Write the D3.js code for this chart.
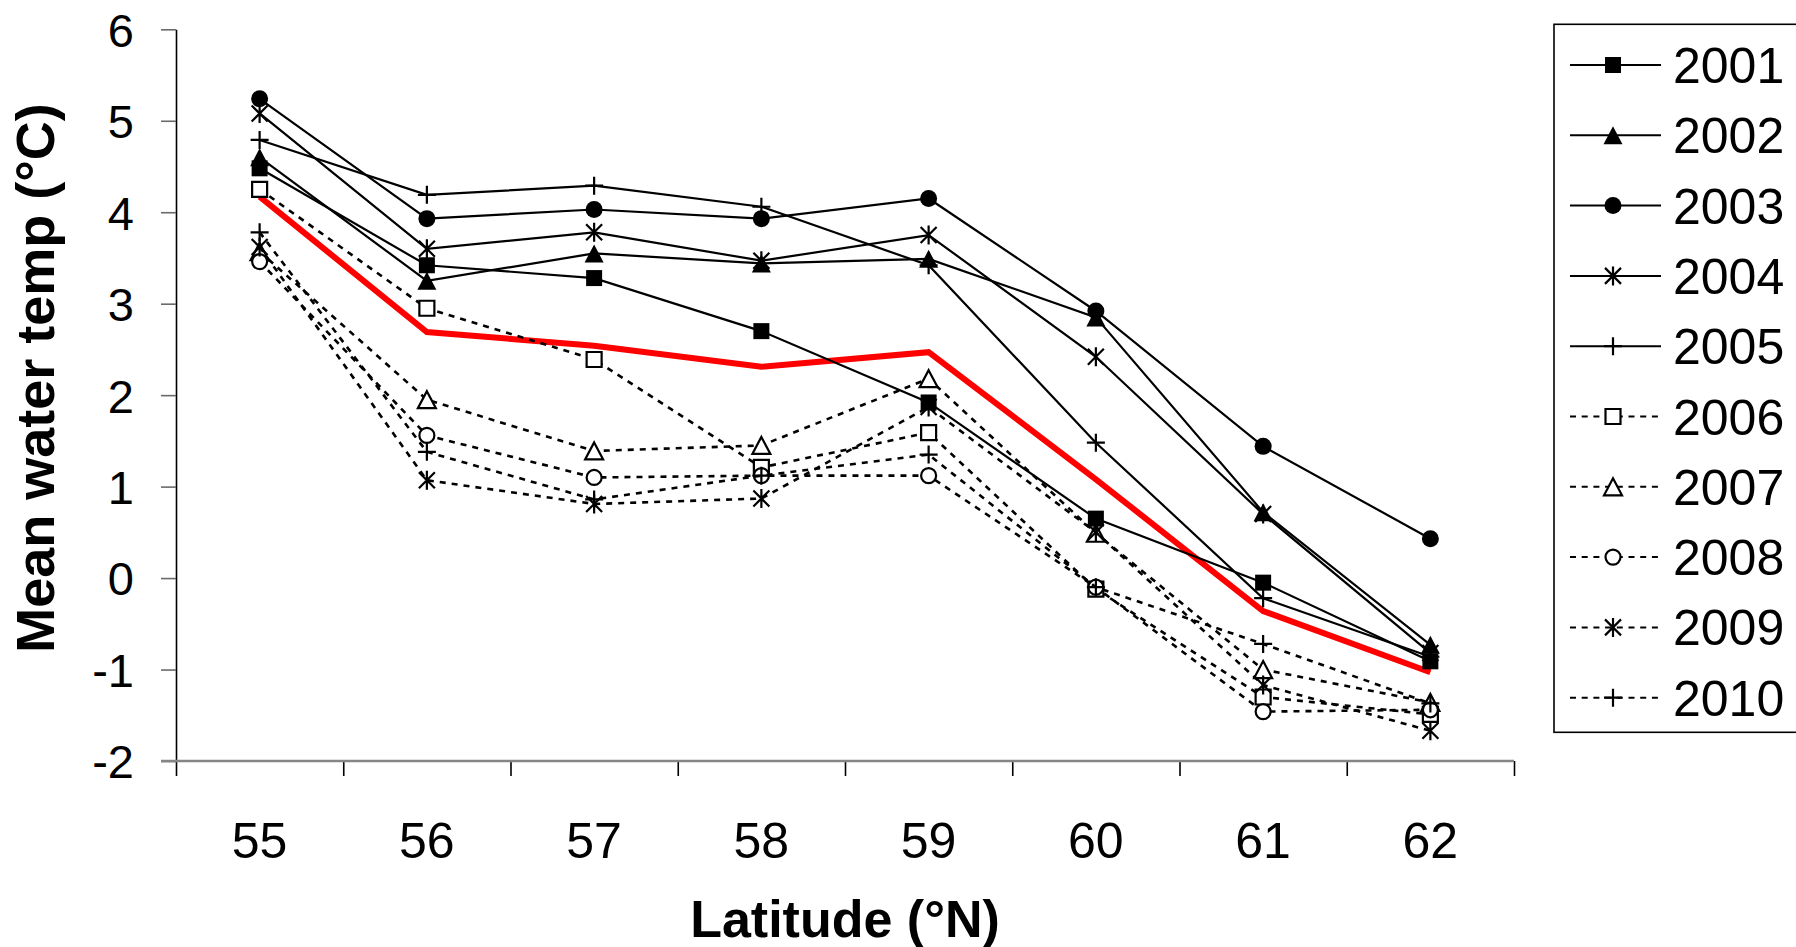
<!DOCTYPE html>
<html>
<head>
<meta charset="utf-8">
<script src="https://cdn.jsdelivr.net/npm/d3@7"></script>
<style>
  html, body { margin: 0; padding: 0; background: #fff; }
  svg { display: block; }
  text { font-family: "Liberation Sans", Arial, Helvetica, sans-serif; fill: #000; }
</style>
</head>
<body>
<svg id="chart" width="1796" height="947"></svg>
<script>
// Latitude bands along the x axis
const latitudes = [55, 56, 57, 58, 59, 60, 61, 62];
const yTicks = [-2, -1, 0, 1, 2, 3, 4, 5, 6];

// Mean water temperature (°C) per latitude, one array per year
const t2001 = [4.48, 3.42, 3.28, 2.70, 1.92, 0.65, -0.05, -0.91];
const t2002 = [4.60, 3.25, 3.55, 3.44, 3.49, 2.85, 0.72, -0.73];
const t2003 = [5.24, 3.93, 4.03, 3.93, 4.15, 2.92, 1.44, 0.43];
const t2004 = [5.08, 3.60, 3.78, 3.47, 3.75, 2.42, 0.70, -0.82];
const t2005 = [4.79, 4.19, 4.29, 4.06, 3.42, 1.48, -0.22, -0.86];
const t2006 = [4.25, 2.95, 2.39, 1.21, 1.59, -0.12, -1.30, -1.49];
const t2007 = [3.57, 1.95, 1.39, 1.45, 2.18, 0.49, -1.00, -1.36];
const t2008 = [3.46, 1.56, 1.10, 1.12, 1.12, -0.10, -1.46, -1.44];
const t2009 = [3.62, 1.07, 0.81, 0.87, 1.87, 0.50, -1.17, -1.67];
const t2010 = [3.78, 1.38, 0.86, 1.12, 1.35, -0.10, -0.72, -1.37];

// Long-term mean (red line)
const tMean = [4.17, 2.69, 2.54, 2.31, 2.47, 1.08, -0.36, -1.03];

const yearLabels = ["2001", "2002", "2003", "2004", "2005", "2006", "2007", "2008", "2009", "2010"];
const yearValues = [t2001, t2002, t2003, t2004, t2005, t2006, t2007, t2008, t2009, t2010];
const markerShapes = ["square", "triangle", "circle", "asterisk", "plus",
                      "square", "triangle", "circle", "asterisk", "plus"];
const markerFilled = [true, true, true, true, true, false, false, false, false, false];
const dashedLine = [false, false, false, false, false, true, true, true, true, true];

const svg = d3.select("#chart");

const plot = { left: 176, right: 1514, top: 29.3, bottom: 761 };

const x = d3.scaleBand().domain(latitudes).range([plot.left, plot.right]).padding(0);
const xEdges = d3.scaleLinear().domain([0, latitudes.length]).range([plot.left, plot.right]);
const y = d3.scaleLinear().domain([-2, 6]).range([plot.bottom, plot.top]);
const cx = d => x(d) + x.bandwidth() / 2;

// Marker path builder
function markerPath(shape, filled) {
  const p = d3.path();
  if (shape === "square") {
    const h = filled ? 8 : 7.5;
    p.rect(-h, -h, 2 * h, 2 * h);
  } else if (shape === "triangle") {
    const w = filled ? 9.5 : 9, hh = filled ? 9 : 8.5;
    p.moveTo(0, -hh); p.lineTo(w, hh); p.lineTo(-w, hh); p.closePath();
  } else if (shape === "circle") {
    const r = filled ? 8.5 : 7.5;
    p.moveTo(r, 0); p.arc(0, 0, r, 0, 2 * Math.PI);
  } else if (shape === "asterisk") {
    const a = 8, v = 9.5;
    p.moveTo(-a, -a); p.lineTo(a, a);
    p.moveTo(a, -a); p.lineTo(-a, a);
    p.moveTo(0, -v); p.lineTo(0, v);
  } else if (shape === "plus") {
    const a = 9;
    p.moveTo(-a, 0); p.lineTo(a, 0);
    p.moveTo(0, -a); p.lineTo(0, a);
  }
  return p.toString();
}

function styleMarker(sel, shape, filled) {
  if (shape === "asterisk" || shape === "plus") {
    sel.attr("fill", "none").attr("stroke", "#000").attr("stroke-width", 2.2);
  } else if (filled) {
    sel.attr("fill", "#000").attr("stroke", "none");
  } else {
    sel.attr("fill", "#fff").attr("stroke", "#000").attr("stroke-width", 2.2);
  }
}

// Axes
const yAxis = d3.axisLeft(y).tickValues(yTicks).tickSize(15).tickPadding(27)
  .tickSizeOuter(0).tickFormat(d => String(d));
const gy = svg.append("g").attr("transform", `translate(${plot.left},0)`).call(yAxis);
gy.select(".domain").attr("stroke", "#000").attr("stroke-width", 1.6);
gy.selectAll(".tick line").attr("stroke", "#6a6a6a").attr("stroke-width", 1.6);
gy.selectAll(".tick text").attr("font-size", 47).attr("dy", "0.36em");

const xTickAxis = d3.axisBottom(xEdges).tickValues(d3.range(latitudes.length + 1))
  .tickSize(15).tickFormat("").tickSizeOuter(0);
const gxt = svg.append("g").attr("transform", `translate(0,${plot.bottom})`).call(xTickAxis);
gxt.select(".domain").remove();
gxt.selectAll(".tick line").attr("stroke", "#000").attr("stroke-width", 1.6);

const xAxis = d3.axisBottom(x).tickSize(0).tickPadding(61).tickFormat(d => String(d));
const gx = svg.append("g").attr("transform", `translate(0,${plot.bottom})`).call(xAxis);
gx.select(".domain").attr("stroke", "#868686").attr("stroke-width", 2.4)
  .attr("d", `M${plot.left - 15},0H${plot.right}`);
gx.selectAll(".tick text").attr("font-size", 50).attr("dy", "0.71em");

// Axis titles
svg.append("text")
  .attr("transform", "translate(54,378) rotate(-90)")
  .attr("text-anchor", "middle")
  .attr("font-size", 54).attr("font-weight", "bold")
  .text("Mean water temp (°C)");

svg.append("text")
  .attr("x", (plot.left + plot.right) / 2).attr("y", 937)
  .attr("text-anchor", "middle")
  .attr("font-size", 52).attr("font-weight", "bold")
  .text("Latitude (°N)");

// Lines
const line = d3.line().x((d, i) => cx(latitudes[i])).y(d => y(d));

svg.append("path").datum(tMean)
  .attr("d", line).attr("fill", "none")
  .attr("stroke", "#ff0000").attr("stroke-width", 6).attr("stroke-linejoin", "miter");

yearValues.forEach((vals, k) => {
  const g = svg.append("g").attr("class", "series-" + yearLabels[k]);
  g.append("path").datum(vals)
    .attr("d", line).attr("fill", "none")
    .attr("stroke", "#000").attr("stroke-width", dashedLine[k] ? 2.6 : 2.2)
    .attr("stroke-dasharray", dashedLine[k] ? "6,6" : null);
  g.selectAll("path.mk").data(vals).enter().append("path")
    .attr("class", "mk")
    .attr("transform", (d, i) => `translate(${cx(latitudes[i])},${y(d)})`)
    .attr("d", markerPath(markerShapes[k], markerFilled[k]))
    .call(styleMarker, markerShapes[k], markerFilled[k]);
});

// Legend
const legend = { left: 1554, top: 24.3, bottom: 732.3, row0: 65, rowStep: 70.3 };
svg.append("rect")
  .attr("x", legend.left).attr("y", legend.top)
  .attr("width", 300).attr("height", legend.bottom - legend.top)
  .attr("fill", "#fff").attr("stroke", "#000").attr("stroke-width", 1.6);

yearLabels.forEach((lab, k) => {
  const ly = legend.row0 + k * legend.rowStep;
  const g = svg.append("g");
  g.append("line")
    .attr("x1", 1570).attr("x2", 1661).attr("y1", ly).attr("y2", ly)
    .attr("stroke", "#000").attr("stroke-width", 2)
    .attr("stroke-dasharray", dashedLine[k] ? "6,5.7" : null);
  g.append("path")
    .attr("transform", `translate(1613,${ly})`)
    .attr("d", markerPath(markerShapes[k], markerFilled[k]))
    .call(styleMarker, markerShapes[k], markerFilled[k]);
  g.append("text")
    .attr("x", 1673).attr("y", ly + 18)
    .attr("font-size", 50)
    .text(lab);
});
</script>
</body>
</html>
